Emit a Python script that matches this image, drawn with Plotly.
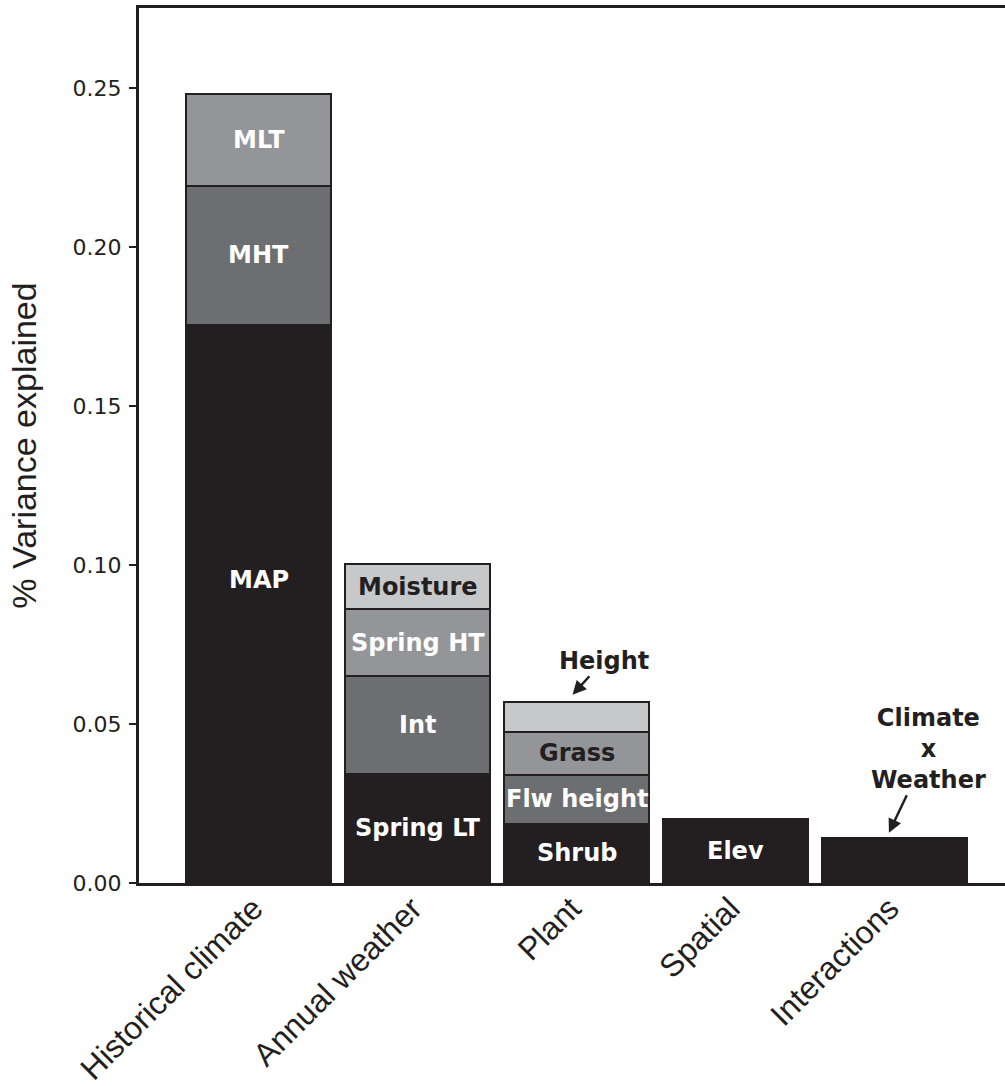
import plotly.graph_objects as go

# ---- data ----
categories = ["Historical climate", "Annual weather", "Plant", "Spatial", "Interactions"]

# stacked segments (bottom -> top) per category
seg_category = ["Historical climate", "Historical climate", "Historical climate",
                "Annual weather", "Annual weather", "Annual weather", "Annual weather",
                "Plant", "Plant", "Plant", "Plant",
                "Spatial",
                "Interactions"]
seg_label = ["MAP", "MHT", "MLT",
             "Spring LT", "Int", "Spring HT", "Moisture",
             "Shrub", "Flw height", "Grass", "Height",
             "Elev",
             "Climate<br>x<br>Weather"]
seg_value = [0.1755, 0.0438, 0.0288,
             0.0343, 0.0308, 0.0210, 0.0142,
             0.0186, 0.0154, 0.0136, 0.0094,
             0.0201,
             0.0142]
seg_level = [0, 1, 2,
             0, 1, 2, 3,
             0, 1, 2, 3,
             0,
             0]

y_ticks = [0.0, 0.05, 0.10, 0.15, 0.20, 0.25]
y_ticktext = ["0.00", "0.05", "0.10", "0.15", "0.20", "0.25"]

# ---- style ----
DARK = "#231f20"
level_colors = ["#231f20", "#6d6e71", "#939598", "#c7c8ca"]
outside_labels = {"Height", "Climate<br>x<br>Weather"}
dark_text_labels = {"Grass", "Moisture"}
label_yshift = {"MAP": 24}
arrow_offsets = {"Height": (31, -34, -0.025, 0.0022),
                 "Climate<br>x<br>Weather": (40, -84, -0.035, 0.0016)}

fig = go.Figure()
bases = {c: 0.0 for c in categories}
annotations = []
for cat, lab, val, lev in zip(seg_category, seg_label, seg_value, seg_level):
    base = bases[cat]
    fig.add_trace(go.Bar(
        x=[categories.index(cat)], y=[val],
        marker=dict(color=level_colors[lev], line=dict(color=DARK, width=2)),
        showlegend=False, hoverinfo="skip",
    ))
    if lab in outside_labels:
        ax, ay, dx, dy = arrow_offsets[lab]
        annotations.append(dict(
            x=categories.index(cat) + dx, y=base + val + dy, xref="x", yref="y",
            text=lab, showarrow=True, ax=ax, ay=ay,
            arrowhead=2, arrowsize=1.1, arrowwidth=2.5, arrowcolor=DARK,
            font=dict(family="DejaVu Sans", size=24, color=DARK, weight="bold"),
        ))
    else:
        annotations.append(dict(
            x=categories.index(cat), y=base + val / 2, xref="x", yref="y",
            text=lab, showarrow=False, yshift=label_yshift.get(lab, 0),
            font=dict(family="DejaVu Sans", size=24,
                      color=DARK if lab in dark_text_labels else "white",
                      weight="bold"),
        ))
    bases[cat] = base + val

fig.update_layout(
    barmode="stack",
    bargap=0.088,
    width=1005, height=1086,
    margin=dict(l=139, r=0, t=8, b=203, autoexpand=False),
    plot_bgcolor="white", paper_bgcolor="white",
    annotations=annotations,
)
fig.update_xaxes(
    range=[-0.7516, 4.695], automargin=False,
    tickmode="array", tickvals=list(range(len(categories))), ticktext=categories,
    tickangle=-45, ticks="",
    showline=True, linecolor=DARK, linewidth=3, mirror=True,
    showgrid=False, zeroline=False,
    tickfont=dict(family="Liberation Sans", size=32, color=DARK),
    ticklabelstandoff=-9, ticklabelshift=-5,
)
fig.update_yaxes(
    range=[0, 0.2752], automargin=False,
    tickmode="array", tickvals=y_ticks, ticktext=y_ticktext,
    ticks="outside", ticklen=7, tickwidth=2, tickcolor=DARK,
    showline=True, linecolor=DARK, linewidth=3,
    showgrid=False, zeroline=False,
    tickfont=dict(family="DejaVu Sans", size=22, color=DARK),
    ticklabelstandoff=3,
    title=dict(text="% Variance explained", standoff=26,
               font=dict(family="Liberation Sans", size=34, color=DARK)),
)

fig.write_html("out.html", config={"displayModeBar": False},
               post_script="document.body.style.margin='0';document.body.style.overflow='hidden';")
